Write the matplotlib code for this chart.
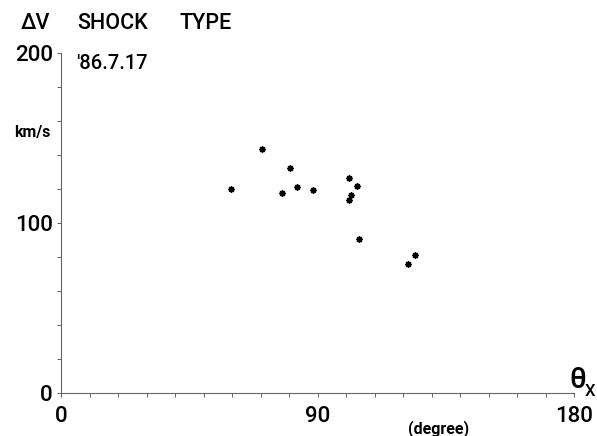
import numpy as np
import matplotlib
matplotlib.use('Agg')
import matplotlib.pyplot as plt

# shock-normal angle theta_x (deg) and velocity jump dV (km/s)
theta_x = [59.7, 70.6, 77.4, 80.4, 82.9, 88.5, 101.1, 101.2, 101.7, 103.8, 104.6, 121.8, 124.1]
dv = [119.8, 143.4, 117.6, 132.4, 121.4, 119.4, 113.7, 126.7, 116.6, 121.6, 90.4, 76.1, 81.0]

x_ticks = np.arange(0, 181, 10)
y_ticks = np.arange(0, 201, 20)
x_labels = {0: '0', 90: '90', 180: '180'}
y_labels = {0: '0', 100: '100', 200: '200'}

plt.rcParams['font.family'] = ['Roboto', 'DejaVu Sans']
plt.rcParams['font.weight'] = 'medium'

fig = plt.figure(figsize=(5.97, 4.36), dpi=100)
ax = fig.add_axes([0.1022, 0.0986, 0.8593, 0.7798])

ax.scatter(theta_x, dv, marker=(8, 2, 0), s=14, color='black', linewidths=1.2, zorder=3)

ax.set_xlim(0, 180)
ax.set_ylim(0, 200)
for s in ['top', 'right']:
    ax.spines[s].set_visible(False)
for s in ['left', 'bottom']:
    ax.spines[s].set_color('#666666')
    ax.spines[s].set_linewidth(0.8)

ax.set_xticks(x_ticks)
ax.set_xticklabels([x_labels.get(int(t), '') for t in x_ticks])
ax.set_yticks(y_ticks)
ax.set_yticklabels([y_labels.get(int(t), '') for t in y_ticks])
ax.tick_params(axis='both', direction='out', length=3, width=0.7, color='#666666',
               labelsize=16)
ax.tick_params(axis='x', pad=6)
ax.tick_params(axis='y', pad=3)

fig.text(0.034, 0.945, '\u0394V', fontsize=15.5, ha='left', va='center')
fig.text(0.129, 0.945, 'SHOCK', fontsize=15.5, ha='left', va='center')
fig.text(0.300, 0.945, 'TYPE', fontsize=15.5, ha='left', va='center')
fig.text(0.128, 0.855, "'86.7.17", fontsize=14.5, ha='left', va='center')
fig.text(0.0838, 0.697, 'km/s', fontsize=11.5, fontweight='bold', ha='right', va='center')
fig.text(0.953, 0.128, '\u03b8', fontsize=21, ha='left', va='center')
fig.text(0.980, 0.103, 'X', fontsize=12, ha='left', va='center')
fig.text(0.734, 0.018, '(degree)', fontsize=11.5, fontweight='bold', ha='center', va='center')

fig.savefig('out.png', dpi=100)
